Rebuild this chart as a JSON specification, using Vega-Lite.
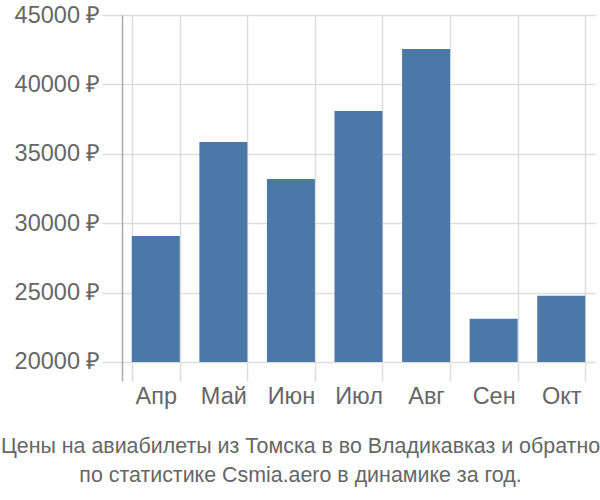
{
  "$schema": "https://vega.github.io/schema/vega-lite/v6.json",
  "autosize": "none",
  "width": 473,
  "height": 366,
  "padding": {"left": 122, "top": 15, "right": 5, "bottom": 119},
  "background": "white",
  "title": {
    "text": ["Цены на авиабилеты из Томска в во Владикавказ и обратно", "по статистике Csmia.aero в динамике за год."],
    "orient": "bottom",
    "anchor": "middle",
    "frame": "group",
    "dx": -58,
    "offset": 28,
    "font": "Liberation Sans",
    "fontSize": 21.4,
    "fontWeight": "normal",
    "color": "#666666",
    "lineHeight": 29
  },
  "data": {
    "values": [
      {"month": "Апр", "price": 29080},
      {"month": "Май", "price": 35850},
      {"month": "Июн", "price": 33180},
      {"month": "Июл", "price": 38080},
      {"month": "Авг", "price": 42550},
      {"month": "Сен", "price": 23120},
      {"month": "Окт", "price": 24780}
    ]
  },
  "mark": {"type": "bar", "color": "#4c78a8"},
  "encoding": {
    "x": {
      "field": "month",
      "type": "nominal",
      "sort": null,
      "scale": {"paddingInner": 0.29, "paddingOuter": 0.145},
      "axis": {
        "title": null,
        "labelAngle": 0,
        "labelFont": "Liberation Sans",
        "labelFontSize": 23.5,
        "labelColor": "#666666",
        "labelPadding": 3,
        "domain": false,
        "ticks": false,
        "grid": true,
        "gridColor": "#dddddd",
        "gridWidth": 1.5,
        "tickBand": "extent"
      }
    },
    "y": {
      "field": "price",
      "type": "quantitative",
      "scale": {"domain": [18630, 45000], "nice": false, "zero": false},
      "axis": {
        "title": null,
        "values": [20000, 25000, 30000, 35000, 40000, 45000],
        "labelExpr": "datum.value + ' ₽'",
        "labelFont": "Liberation Sans",
        "labelFontSize": 23.5,
        "labelColor": "#666666",
        "labelPadding": 2,
        "tickSize": 20,
        "tickColor": "#dddddd",
        "tickWidth": 1.5,
        "domain": true,
        "domainColor": "#aaaaaa",
        "domainWidth": 1.5,
        "grid": true,
        "gridColor": "#dddddd",
        "gridWidth": 1.5
      }
    },
    "y2": {"datum": 20000}
  },
  "config": {"view": {"stroke": null}}
}
